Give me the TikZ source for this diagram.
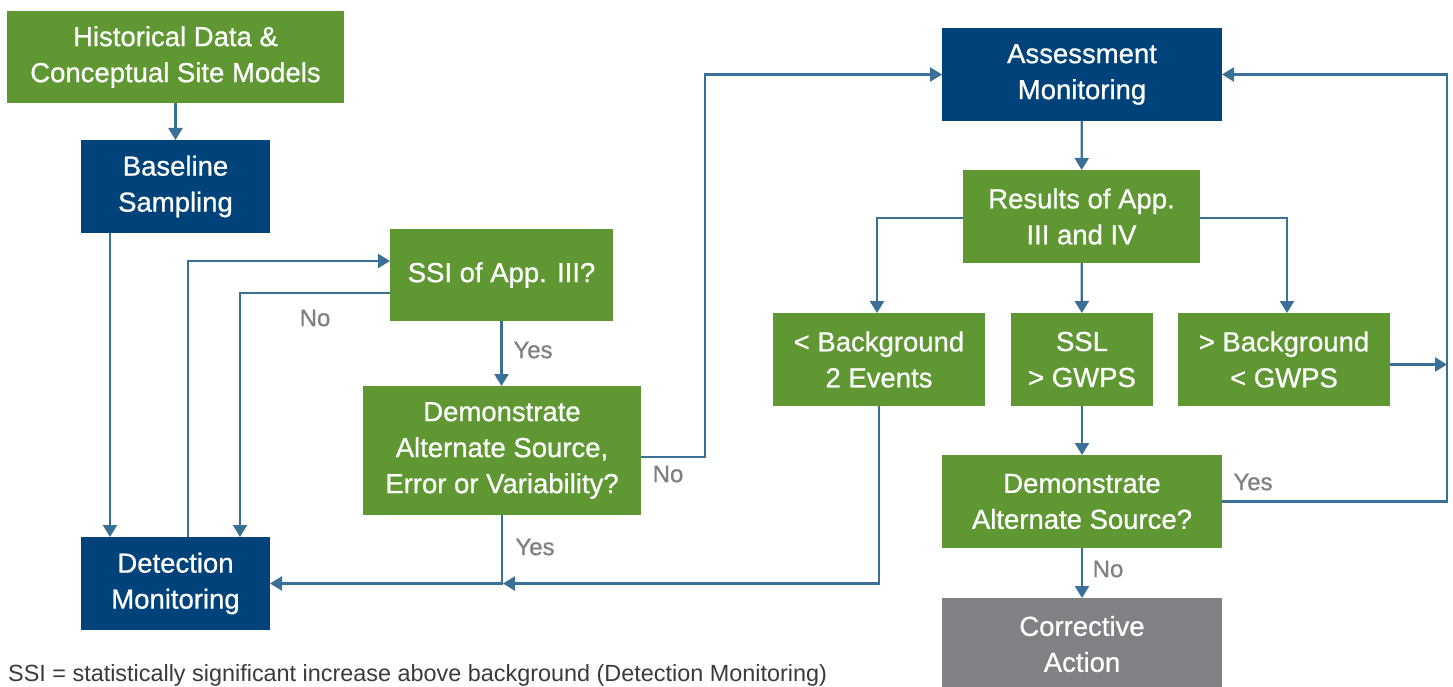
\documentclass[tikz,border=0pt]{standalone}
\usepackage{fontspec}
\setmainfont{Liberation Sans}
\newfontfamily\medfont{Liberation Sans}[FakeBold=0.8]
\usetikzlibrary{arrows.meta,calc}
\definecolor{cgreen}{HTML}{5F9732}
\definecolor{cblue}{HTML}{00427A}
\definecolor{cgray}{HTML}{808184}
\definecolor{cline}{HTML}{3A6F96}
\definecolor{clabel}{HTML}{808080}
\definecolor{cnote}{HTML}{3A3A3A}
\begin{document}
\begin{tikzpicture}[x=1pt,y=-1pt,
  box/.style={inner sep=0pt,outer sep=0pt,text=white,align=center,
    font=\medfont\fontsize{27.5}{36}\selectfont},
  gbox/.style={box,fill=cgreen},
  bbox/.style={box,fill=cblue},
  graybox/.style={box,fill=cgray},
  arr/.style={draw=cline,line width=2.3pt,-{Triangle[length=12pt,width=14pt]}},
  lbl/.style={text=clabel,font=\medfont\fontsize{24}{28}\selectfont,inner sep=0pt}]
\useasboundingbox (0,0) rectangle (1453,687);
% nodes
\node[gbox,minimum width=337pt,minimum height=92pt] (hist) at (175.5,57) {Historical Data \&\\Conceptual Site Models};
\node[bbox,minimum width=189pt,minimum height=93pt] (base) at (175.5,186.5) {Baseline\\Sampling};
\node[bbox,minimum width=189pt,minimum height=93pt] (det) at (175.5,583.5) {Detection\\Monitoring};
\node[gbox,minimum width=223pt,minimum height=92pt] (ssi) at (501.5,275) {SSI of App. III?};
\node[gbox,minimum width=278pt,minimum height=129pt] (dem1) at (502,450.5) {Demonstrate\\Alternate Source,\\Error or Variability?};
\node[bbox,minimum width=280pt,minimum height=93pt] (assess) at (1082,74.5) {Assessment\\Monitoring};
\node[gbox,minimum width=237pt,minimum height=93pt] (res) at (1081.5,216.5) {Results of App.\\III and IV};
\node[gbox,minimum width=212pt,minimum height=93pt] (lbg) at (879,359.5) {< Background\\2 Events};
\node[gbox,minimum width=142pt,minimum height=93pt] (ssl) at (1082,359.5) {SSL\\> GWPS};
\node[gbox,minimum width=212pt,minimum height=93pt] (gbg) at (1284,359.5) {> Background\\< GWPS};
\node[gbox,minimum width=280pt,minimum height=93pt] (dem2) at (1082,501.5) {Demonstrate\\Alternate Source?};
\node[graybox,minimum width=280pt,minimum height=92pt] (corr) at (1082,644) {Corrective\\Action};
\coordinate (rx) at (1447,0);
\coordinate (nx) at (705,0);
% connectors
\draw[arr] (hist) -- (base);
\draw[arr] ([xshift=29pt]base.south west) -- ([xshift=29pt]det.north west);
\draw[arr] ([xshift=107pt]det.north west) |- ([yshift=14pt]ssi.west);
\draw[arr] ([yshift=-18pt]ssi.west) -| ([xshift=159pt]det.north west);
\draw[arr] (ssi.south) -- (ssi.south |- dem1.north);
\draw[arr] ([yshift=-6.5pt]dem1.east) -| (nx |- assess.west) -- (assess.west);
\draw[arr] (dem1.south) |- (det.east);
\draw[arr] (lbg.south) |- ([xshift=1pt]dem1.south |- det.east);
\draw[arr] (assess) -- (res);
\draw[arr] ([yshift=-1.5pt]res.west) -| ([xshift=-2pt]lbg.north);
\draw[arr] (res) -- (ssl);
\draw[arr] ([yshift=-1.5pt]res.east) -| ([xshift=3pt]gbg.north);
\draw[arr] (ssl) -- (dem2);
\draw[arr] (dem2.east) -- (dem2.east -| rx) -- (rx |- assess.east) -- (assess.east);
\draw[arr] ([yshift=-5pt]gbg.east) -- ([yshift=-5pt]gbg.east -| rx);
\draw[arr] (dem2) -- (corr);
% labels
\node[lbl] (l1) at (315,318) {No};
\node[lbl] (l2) at (533,350) {Yes};
\node[lbl] (l3) at (668,474) {No};
\node[lbl] (l4) at (535,547) {Yes};
\node[lbl] (l5) at (1253,482) {Yes};
\node[lbl] (l6) at (1108,569) {No};
\node[anchor=base west,inner sep=0pt,text=cnote,font=\fontsize{23.4}{26}\selectfont] (note) at (8,681) {SSI = statistically significant increase above background (Detection Monitoring)};
\end{tikzpicture}
\end{document}
